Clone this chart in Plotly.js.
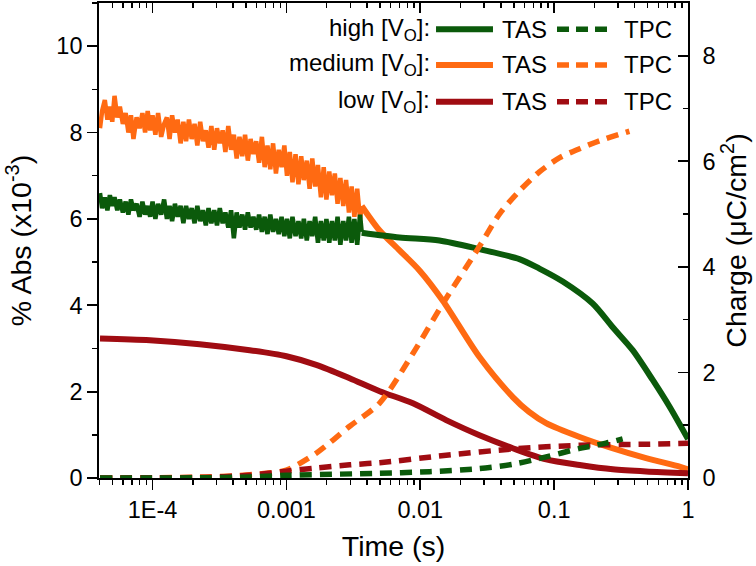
<!DOCTYPE html>
<html>
<head>
<meta charset="utf-8">
<script src="https://cdn.plot.ly/plotly-3.0.1.min.js"></script>
<style>
  html, body { margin: 0; padding: 0; background: #fff; }
  #chart { width: 756px; height: 566px; }
</style>
</head>
<body>
<div id="chart"></div>
<script>
// time points of the noisy early part of the TAS traces (s)
var tNoise = [
  4.05e-5, 4.2e-5, 4.4e-5, 4.6e-5, 4.8e-5, 5.0e-5, 5.2e-5, 5.45e-5, 5.7e-5, 6.0e-5,
  6.3e-5, 6.6e-5, 6.9e-5, 7.2e-5, 7.6e-5, 8.0e-5, 8.4e-5, 8.8e-5, 9.2e-5, 9.6e-5,
  1.0e-4, 1.05e-4, 1.1e-4, 1.16e-4, 1.22e-4, 1.28e-4, 1.34e-4, 1.4e-4, 1.47e-4, 1.54e-4,
  1.62e-4, 1.7e-4, 1.78e-4, 1.87e-4, 1.96e-4, 2.06e-4, 2.16e-4, 2.27e-4, 2.38e-4, 2.5e-4,
  2.62e-4, 2.75e-4, 2.89e-4, 3.03e-4, 3.18e-4, 3.34e-4, 3.5e-4, 3.68e-4, 3.86e-4, 4.05e-4,
  4.25e-4, 4.46e-4, 4.68e-4, 4.91e-4, 5.15e-4, 5.4e-4, 5.67e-4, 5.95e-4, 6.25e-4, 6.56e-4,
  6.88e-4, 7.22e-4, 7.58e-4, 7.95e-4, 8.35e-4, 8.76e-4, 9.2e-4, 9.65e-4, 1.01e-3, 1.06e-3,
  1.11e-3, 1.17e-3, 1.23e-3, 1.29e-3, 1.35e-3, 1.42e-3, 1.49e-3, 1.56e-3, 1.64e-3, 1.72e-3,
  1.81e-3, 1.9e-3, 1.99e-3, 2.09e-3, 2.19e-3, 2.3e-3, 2.41e-3, 2.53e-3, 2.66e-3, 2.79e-3,
  2.93e-3, 3.07e-3, 3.22e-3, 3.38e-3, 3.55e-3, 3.65e-3
];

// medium [Vo] TAS, noisy part (%Abs x1e-3)
var medNoise = [
  8.1, 8.5, 8.75, 8.3, 8.6, 8.25, 8.85, 8.35, 8.6, 8.2,
  8.45, 8.0, 8.4, 7.85, 8.35, 8.1, 8.45, 8.0, 8.5, 8.05,
  8.4, 7.95, 8.45, 7.9, 8.2, 8.35, 7.85, 8.4, 8.0, 8.3,
  7.75, 8.25, 7.8, 8.3, 7.85, 8.2, 7.7, 8.25, 7.8, 8.05,
  7.65, 8.15, 7.6, 8.1, 7.75, 8.05, 7.55, 8.15, 7.6, 7.95,
  7.4, 7.9, 7.45, 7.95, 7.35, 7.85, 7.5, 7.8, 7.3, 7.9,
  7.2, 7.7, 7.15, 7.75, 7.05, 7.6, 7.2, 7.7, 7.0, 7.55,
  6.85, 7.5, 6.8, 7.45, 6.9, 7.35, 6.7, 7.4, 6.75, 7.25,
  6.5, 7.2, 6.45, 7.1, 6.55, 7.05, 6.35, 6.95, 6.3, 6.9,
  6.15, 6.75, 6.05, 6.7, 6.0, 6.3
];

// high [Vo] TAS, noisy part
var highNoise = [
  6.6, 6.25, 6.5, 6.2, 6.55, 6.3, 6.5, 6.2, 6.45, 6.15,
  6.4, 6.1, 6.45, 6.2, 6.35, 6.05, 6.4, 6.1, 6.3, 6.05,
  6.4, 6.0, 6.35, 6.1, 6.45, 6.0, 6.3, 5.95, 6.35, 6.05,
  6.3, 5.9, 6.3, 6.0, 6.25, 5.9, 6.3, 5.95, 6.2, 5.85,
  6.25, 5.9, 6.2, 5.85, 6.25, 5.9, 6.15, 5.8, 6.2, 5.55,
  6.15, 5.8, 6.1, 5.75, 6.15, 5.8, 6.05, 5.75, 6.1, 5.7,
  6.05, 5.65, 6.1, 5.7, 6.0, 5.65, 6.05, 5.6, 6.0, 5.55,
  6.05, 5.6, 5.95, 5.55, 6.0, 5.5, 5.95, 5.6, 6.05, 5.45,
  5.95, 5.5, 6.0, 5.45, 5.95, 5.5, 6.05, 5.4, 5.95, 5.5,
  6.05, 5.45, 6.0, 5.4, 6.1, 5.7
];

// smooth later parts of the TAS traces
var medTailT = [3.65e-3, 4.97e-3, 7.0e-3, 9.9e-3, 1.47e-2, 2.77e-2, 4.89e-2, 6.5e-2, 8.71e-2, 0.155, 0.272, 0.486, 0.876, 1.0];
var medTail  = [6.3, 5.73, 5.27, 4.80, 4.11, 2.80, 1.88, 1.53, 1.27, 0.95, 0.69, 0.46, 0.26, 0.2];

var highTailT = [3.65e-3, 7.0e-3, 1.39e-2, 2.77e-2, 5.5e-2, 7.76e-2, 0.116, 0.194, 0.274, 0.386, 0.545, 0.725, 1.0];
var highTail  = [5.68, 5.57, 5.50, 5.30, 5.07, 4.85, 4.55, 4.04, 3.49, 2.96, 2.27, 1.66, 0.9];

var lowT   = [4.05e-5, 9.55e-5, 2.25e-4, 5.32e-4, 1.0e-3, 1.67e-3, 2.97e-3, 4.97e-3, 8.81e-3, 1.56e-2, 2.77e-2, 4.91e-2, 8.71e-2, 0.155, 0.274, 0.486, 1.0];
var lowTAS = [3.23, 3.19, 3.10, 2.96, 2.82, 2.62, 2.31, 2.01, 1.73, 1.34, 0.99, 0.69, 0.43, 0.30, 0.20, 0.15, 0.11];

// TPC charge (uC/cm2)
var medTpcT = [4.05e-5, 1.0e-4, 2.5e-4, 4.0e-4, 7.1e-4, 1.0e-3, 1.67e-3, 2.97e-3, 4.97e-3, 8.81e-3, 1.48e-2, 2.77e-2, 3.9e-2, 5.5e-2, 7.76e-2, 0.11, 0.155, 0.218, 0.365];
var medTpc  = [0.0, 0.005, 0.02, 0.04, 0.09, 0.15, 0.47, 0.98, 1.42, 2.36, 3.31, 4.39, 5.0, 5.44, 5.8, 6.07, 6.24, 6.39, 6.57];

var lowTpcT = [4.05e-5, 1.0e-4, 2.25e-4, 5.32e-4, 1.0e-3, 1.67e-3, 2.97e-3, 4.97e-3, 1.56e-2, 4.91e-2, 0.155, 0.486, 1.0];
var lowTpc  = [0.0, 0.005, 0.01, 0.05, 0.13, 0.19, 0.25, 0.29, 0.43, 0.55, 0.62, 0.64, 0.66];

var highTpcT = [4.05e-5, 1.0e-4, 2.5e-4, 5.32e-4, 1.0e-3, 4.97e-3, 1.17e-2, 2.77e-2, 4.91e-2, 8.71e-2, 0.155, 0.244, 0.325];
var highTpc  = [0.0, 0.0, 0.005, 0.02, 0.05, 0.09, 0.12, 0.18, 0.26, 0.40, 0.56, 0.66, 0.74];

var groups = ["high", "medium", "low"];
var colors = ["#0B5A0B", "#FF6A12", "#A00C12"];

var xTickVals = [1e-4, 1e-3, 1e-2, 1e-1, 1];
var xTickText = ["1E-4", "0.001", "0.01", "0.1", "1"];

// minor ticks 2..9 in each decade
var minorVals = [];
for (var d = -5; d <= -1; d++) {
  for (var m = 2; m <= 9; m++) minorVals.push(m * Math.pow(10, d));
}

var FONT = "Liberation Sans, Arial, sans-serif";
var tasWidth = 6;
var noiseWidth = 4.5;
var tpcWidth = 5.5;
var tpcDash = "12px,8px";

function tas(x, y, color, width, shape) {
  return { x: x, y: y, mode: "lines", line: { color: color, width: width, shape: shape, smoothing: 0.8 }, showlegend: false };
}
function tpc(x, y, color) {
  return {
    x: x, y: y, yaxis: "y2", mode: "lines", showlegend: false,
    line: { color: color, width: tpcWidth, dash: tpcDash, shape: "spline", smoothing: 0.8 }
  };
}

var data = [
  tas(tNoise, medNoise, colors[1], noiseWidth, "linear"),
  tas(medTailT, medTail, colors[1], tasWidth, "spline"),
  tas(tNoise, highNoise, colors[0], noiseWidth, "linear"),
  tas(highTailT, highTail, colors[0], tasWidth, "spline"),
  tas(lowT, lowTAS, colors[2], tasWidth, "spline"),
  tpc(medTpcT, medTpc, colors[1]),
  tpc(lowTpcT, lowTpc, colors[2]),
  tpc(highTpcT, highTpc, colors[0]),
  // empty trace so the top axis is drawn
  { x: [], y: [], xaxis: "x2", yaxis: "y", mode: "lines", showlegend: false, hoverinfo: "skip" }
];

// legend built by hand: "high [Vo]: ——— TAS - - - TPC"
var rowY = [0.9446, 0.8695, 0.7922];
var annotations = [];
var shapes = [];
groups.forEach(function (g, i) {
  annotations.push({
    xref: "paper", yref: "paper", x: 0.5654, y: rowY[i],
    xanchor: "right", yanchor: "middle", showarrow: false,
    text: g + " [V<sub>O</sub>]:", font: { family: FONT, size: 24, color: "#000" }
  });
  annotations.push({
    xref: "paper", yref: "paper", x: 0.6808, y: rowY[i],
    xanchor: "left", yanchor: "middle", showarrow: false,
    text: "TAS", font: { family: FONT, size: 24, color: "#000" }
  });
  annotations.push({
    xref: "paper", yref: "paper", x: 0.8874, y: rowY[i],
    xanchor: "left", yanchor: "middle", showarrow: false,
    text: "TPC", font: { family: FONT, size: 24, color: "#000" }
  });
  shapes.push({
    type: "line", xref: "paper", yref: "paper",
    x0: 0.5722, x1: 0.6689, y0: rowY[i], y1: rowY[i],
    line: { color: colors[i], width: tasWidth }
  });
  shapes.push({
    type: "line", xref: "paper", yref: "paper",
    x0: 0.7776, x1: 0.8642, y0: rowY[i], y1: rowY[i],
    line: { color: colors[i], width: tpcWidth, dash: "12px,7px" }
  });
});

var tickFont = { family: FONT, size: 23.5, color: "#000" };
var titleFont = { family: FONT, size: 28.5, color: "#000" };

var layout = {
  width: 756,
  height: 566,
  margin: { l: 99, r: 68, t: 3, b: 88 },
  paper_bgcolor: "#fff",
  plot_bgcolor: "#fff",
  font: { family: FONT, color: "#000" },
  showlegend: false,
  xaxis: {
    type: "log",
    range: [-4.4, 0],
    tickmode: "array",
    tickvals: xTickVals,
    ticktext: xTickText,
    ticks: "outside",
    ticklen: 10,
    tickwidth: 1.8,
    tickcolor: "#000",
    minor: { tickmode: "array", tickvals: minorVals, ticks: "outside", ticklen: 5, tickwidth: 1.5, tickcolor: "#000", showgrid: false },
    showgrid: false,
    zeroline: false,
    showline: true,
    linecolor: "#000",
    linewidth: 1.8,
    tickfont: tickFont,
    title: { text: "Time (s)", font: titleFont, standoff: 14 },
    automargin: false
  },
  xaxis2: {
    type: "log",
    range: [-4.4, 0],
    overlaying: "x",
    side: "top",
    anchor: "y",
    tickmode: "array",
    tickvals: xTickVals,
    ticks: "inside",
    ticklen: 10,
    tickwidth: 1.8,
    tickcolor: "#000",
    minor: { tickmode: "array", tickvals: minorVals, ticks: "inside", ticklen: 5, tickwidth: 1.5, tickcolor: "#000", showgrid: false },
    showticklabels: false,
    showgrid: false,
    zeroline: false,
    showline: true,
    linecolor: "#000",
    linewidth: 1.8
  },
  yaxis: {
    range: [0, 11],
    dtick: 2,
    tick0: 0,
    ticks: "outside",
    ticklen: 10,
    tickwidth: 1.8,
    tickcolor: "#000",
    minor: { dtick: 1, ticks: "outside", ticklen: 5, tickwidth: 1.5, tickcolor: "#000", showgrid: false },
    showgrid: false,
    zeroline: false,
    showline: true,
    linecolor: "#000",
    linewidth: 1.8,
    tickfont: tickFont,
    title: { text: "% Abs (x10<sup>-3</sup>)", font: titleFont, standoff: 16 },
    automargin: false
  },
  yaxis2: {
    range: [0, 9],
    dtick: 2,
    tick0: 0,
    overlaying: "y",
    side: "right",
    anchor: "x",
    ticks: "inside",
    ticklen: 10,
    tickwidth: 1.8,
    tickcolor: "#000",
    ticklabelstandoff: 8,
    minor: { dtick: 1, ticks: "inside", ticklen: 5, tickwidth: 1.5, tickcolor: "#000", showgrid: false },
    showgrid: false,
    zeroline: false,
    showline: true,
    linecolor: "#000",
    linewidth: 1.8,
    tickfont: tickFont,
    title: { text: "Charge (\u03BCC/cm<sup>2</sup>)", font: titleFont, standoff: 10 },
    automargin: false
  },
  annotations: annotations,
  shapes: shapes
};

Plotly.newPlot("chart", data, layout, { staticPlot: true, displayModeBar: false });
</script>
</body>
</html>
